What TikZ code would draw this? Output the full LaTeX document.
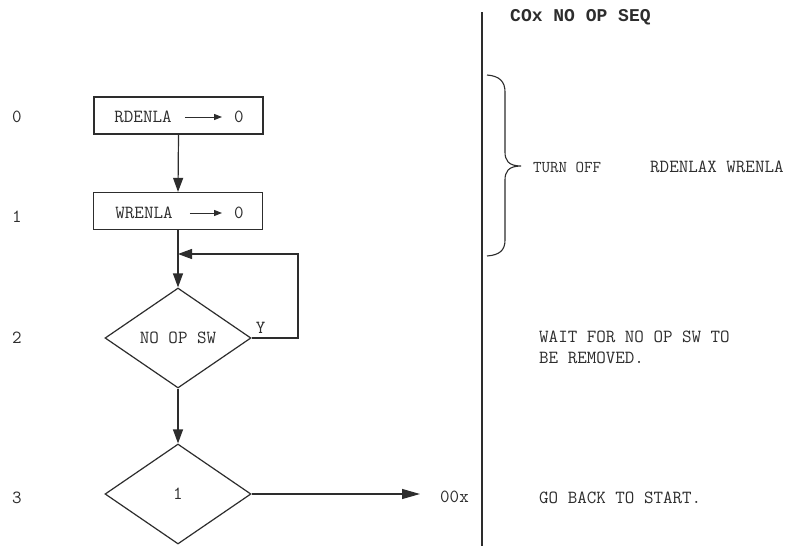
\documentclass[tikz,border=0pt]{standalone}
\usepackage{fontspec}
\newfontfamily\titlefont{Liberation Mono}
\usetikzlibrary{arrows.meta,shapes.geometric}
\definecolor{ink}{RGB}{45,45,45}
\begin{document}
\begin{tikzpicture}[x=1pt,y=-1pt,
  every node/.style={font=\ttfamily\fontsize{18.5}{21}\selectfont, text=ink},
  line/.style={draw=ink, line width=1.2pt},
  arr/.style={line, -{Triangle[length=14pt,width=10pt]}},
  smallarr/.style={draw=ink, line width=1pt, -{Triangle[length=8pt,width=6pt]}},
  stepbox/.style={draw=ink, line width=1.2pt, minimum width=169pt, minimum height=37pt, inner sep=0pt},
  decide/.style={draw=ink, line width=1.2pt, diamond, aspect=1.46, inner sep=0pt, minimum width=146pt, minimum height=100pt},
  lbl/.style={inner sep=1pt}]
\useasboundingbox (0,0) rectangle (791,546);
\fill[white] (0,0) rectangle (791,546);

% step labels
\node[lbl] (l0) at (17,117) {0};
\node[lbl] (l1) at (17,217) {1};
\node[lbl] (l2) at (17,338) {2};
\node[lbl] (l3) at (17,498) {3};

% boxes
\node[stepbox] (b0) at (178.5,115.5) {};
\node[inner sep=3pt] (b0l) at (143,117) {RDENLA};
\node[inner sep=3pt] (b0r) at (239,117) {0};
\draw[smallarr, shorten <=10pt, shorten >=9pt] (b0l.east) -- (b0r.west);

\node[stepbox] (b1) at (178,211) {};
\node[inner sep=3pt] (b1l) at (144,213) {WRENLA};
\node[inner sep=3pt] (b1r) at (239,213) {0};
\draw[smallarr, shorten <=14pt, shorten >=9pt] (b1l.east) -- (b1r.west);

% decisions
\node[decide] (d2) at (178,338) {NO OP SW};
\node[decide] (d3) at (178,494) {1};

% connectors
\draw[arr] (b0.south) -- (b1.north);
\draw[arr] (b1.south) -- (d2.north);
\coordinate (lp) at (298,254);
\coordinate (jn) at (178,254);
\draw[arr] (d2.east) -- (d2.east -| lp) -- (lp) -- (jn);
\node[lbl, anchor=south west] (y) at ([xshift=3pt,yshift=3pt]d2.east) {Y};
\draw[arr] (d2.south) -- (d3.north);
\node[inner sep=0pt, anchor=west] (o00) at (440,497) {00x};
\draw[line, -{Triangle[length=18pt,width=10pt]}, shorten >=20pt] (d3.east) -- (d3.east -| o00.west);

% divider
\draw[line, line width=1.1pt] (482,12) -- (482,546);

% right column
\node[anchor=west, inner sep=0pt, font=\titlefont\fontsize{18}{21}\selectfont\bfseries] (title) at (510,17) {COx NO OP SEQ};
\draw[line, line width=1.1pt] (487,75) .. controls (500,76) and (505,82) .. (505,92) -- (505,152)
  .. controls (505,160) and (508,166) .. (521,166)
  .. controls (508,166) and (505,172) .. (505,180) -- (505,240)
  .. controls (505,250) and (500,255) .. (487,256);
\node[anchor=west, inner sep=0pt, font=\ttfamily\fontsize{16.5}{19}\selectfont] (t1) at (533,167) {TURN OFF};
\node[anchor=west, inner sep=0pt] (t2) at (650,167) {RDENLAX WRENLA};
\node[anchor=west, inner sep=0pt, align=left, font=\ttfamily\fontsize{18.5}{21}\selectfont] (t3) at (539,347) {WAIT FOR NO OP SW TO\\BE REMOVED.};
\node[anchor=west, inner sep=0pt] (t4) at (539,498) {GO BACK TO START.};
\end{tikzpicture}
\end{document}
